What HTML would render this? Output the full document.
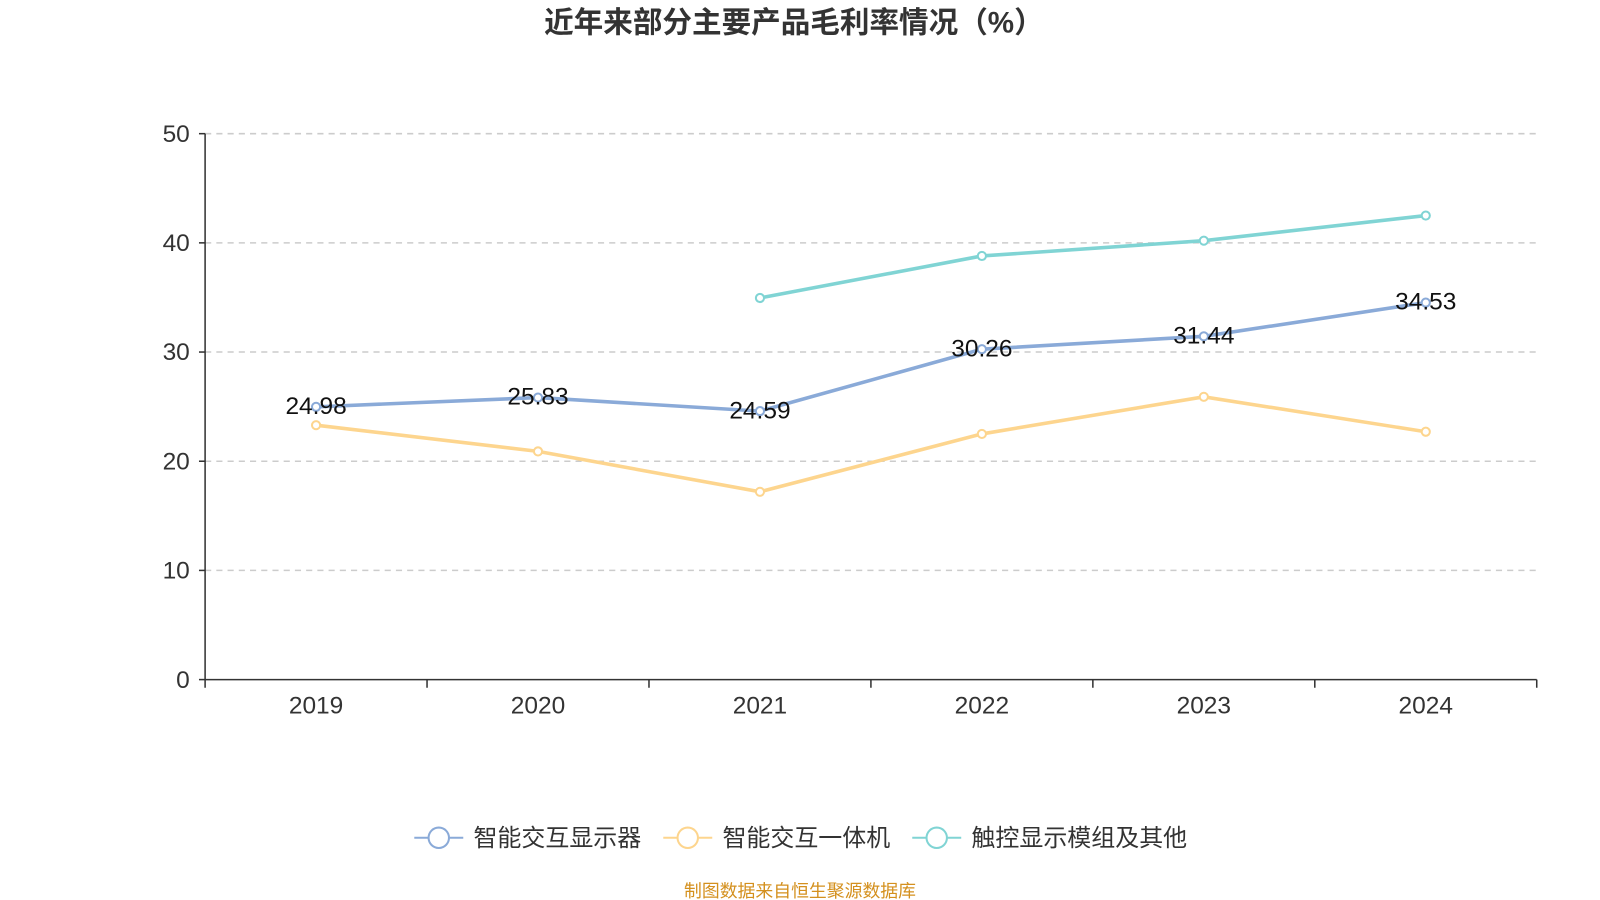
<!DOCTYPE html>
<html><head><meta charset="utf-8">
<style>
body{margin:0;background:#fff;width:1600px;height:900px;overflow:hidden;font-family:"Liberation Sans","Noto Sans CJK SC",sans-serif;}
svg{display:block;}
</style></head>
<body>
<svg id="chart" width="1600" height="900" viewBox="0 0 1568 882" preserveAspectRatio="none" xmlns="http://www.w3.org/2000/svg" font-family="Liberation Sans, Noto Sans CJK SC, sans-serif">
<text x="778" y="32" text-anchor="middle" font-size="29" font-weight="bold" fill="#333">近年来部分主要产品毛利率情况（%）</text>
<g id="grid"></g><g id="axes"></g><g id="series"></g>
<g font-size="23.5" fill="#333">
 <g><line x1="406" y1="821" x2="454" y2="821" stroke="#8aaad8" stroke-width="2"/><circle cx="430" cy="821" r="10" fill="#fff" stroke="#8aaad8" stroke-width="2"/><text x="464" y="829">智能交互显示器</text></g>
 <g><line x1="650" y1="821" x2="698" y2="821" stroke="#fdd58e" stroke-width="2"/><circle cx="674" cy="821" r="10" fill="#fff" stroke="#fdd58e" stroke-width="2"/><text x="708" y="829">智能交互一体机</text></g>
 <g><line x1="894" y1="821" x2="942" y2="821" stroke="#80d4d4" stroke-width="2"/><circle cx="918" cy="821" r="10" fill="#fff" stroke="#80d4d4" stroke-width="2"/><text x="952" y="829">触控显示模组及其他</text></g>
</g>
<text x="784" y="879" text-anchor="middle" font-size="17.5" fill="#d4901e">制图数据来自恒生聚源数据库</text>
</svg>
<script>
const categories=["2019","2020","2021","2022","2023","2024"];
const displayVals=[24.98,25.83,24.59,30.26,31.44,34.53];
const allInOneVals=[23.3,20.9,17.2,22.5,25.9,22.7];
const touchVals=[null,null,34.95,38.8,40.2,42.5];
const yTicks=[0,10,20,30,40,50];
const NS="http://www.w3.org/2000/svg";
const x0=201,x1=1506,y0=666,y1=131;
const xs=i=>x0+(x1-x0)/categories.length*(i+0.5);
const ys=v=>y0-(v/50)*(y0-y1);
function mk(t,a,p){const e=document.createElementNS(NS,t);for(const k in a)e.setAttribute(k,a[k]);p.appendChild(e);return e;}
const grid=document.getElementById('grid'),axes=document.getElementById('axes'),ser=document.getElementById('series');
yTicks.forEach(v=>{
 if(v>0){const g=mk('line',{x1:x0,x2:x1,y1:ys(v),y2:ys(v),stroke:'#ccc','stroke-dasharray':'6,5','stroke-width':1.5},grid);
 
 }
 const t=mk('text',{x:186,y:ys(v)+8,'text-anchor':'end','font-size':24,fill:'#333'},axes);t.textContent=v;
 
 
 mk('line',{x1:x0-6,x2:x0,y1:ys(v),y2:ys(v),stroke:'#333','stroke-width':1.5},axes);
});
mk('line',{x1:x0,x2:x0,y1:y1,y2:y0,stroke:'#333','stroke-width':1.5},axes);
mk('line',{x1:x0,x2:x1,y1:y0,y2:y0,stroke:'#333','stroke-width':1.5},axes);
for(let i=0;i<=categories.length;i++){const x=x0+(x1-x0)/categories.length*i;mk('line',{x1:x,x2:x,y1:y0,y2:y0+8,stroke:'#333','stroke-width':1.5},axes);}
categories.forEach((c,i)=>{const t=mk('text',{x:xs(i),y:699,'text-anchor':'middle','font-size':24,fill:'#333'},axes);t.textContent=c;
 
 });
function series(vals,color,name,labels){
 const g=mk('g',{},ser);
 
 
 const pts=vals.map((v,i)=>v==null?null:[xs(i),ys(v)]).filter(p=>p);
 mk('polyline',{points:pts.map(p=>p.join(',')).join(' '),fill:'none',stroke:color,'stroke-width':3.5},g);
 vals.forEach((v,i)=>{if(v==null)return;
  const c=mk('circle',{cx:xs(i),cy:ys(v),r:4,fill:'#fff',stroke:color,'stroke-width':2},g);
  
  
  if(labels){const t=mk('text',{x:xs(i),y:ys(v)+7,'text-anchor':'middle','font-size':24,fill:'#111'},g);t.textContent=v.toFixed(2);
   
   }
 });
}
series(allInOneVals,'#fdd58e','allinone-series',false);
series(touchVals,'#80d4d4','touch-series',false);
series(displayVals,'#8aaad8','display-series',true);
</script>
</body></html>
